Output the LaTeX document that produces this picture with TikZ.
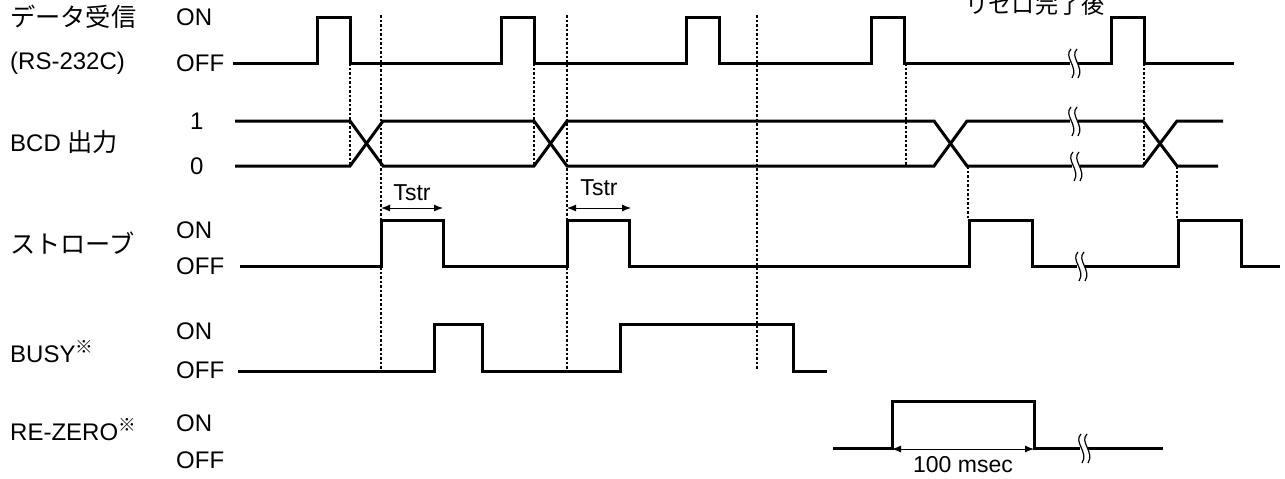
\documentclass[tikz,border=0pt]{standalone}
\usepackage{fontspec}
\setmainfont{Liberation Sans}
\newfontfamily\jp[Scale=1.05]{Noto Sans CJK JP}
\usetikzlibrary{arrows.meta,positioning}

\begin{document}
\begin{tikzpicture}[x=1pt,y=-1pt,
					sig/.style={line width=3pt, line join=miter},
					guide/.style={line width=2pt, dash pattern=on 2.5pt off 2pt},
					dim/.style={{Latex[length=9pt,width=7pt]}-{Latex[length=9pt,width=7pt]}, line width=1pt},
					lbl/.style={anchor=west, inner sep=0pt, font=\fontsize{24}{28}\selectfont},
					brk/.pic={
						\fill[white] (-3,-6) rectangle (5,6);
						\foreach \d in {-3,3}
							\draw[line width=1.2pt] (\d+1,-14) .. controls (\d-7,-6) and (\d+9,4) .. (\d+2,15);
					}]
					\useasboundingbox (0,0) rectangle (1285,479);
					
					% signal names
					\node[lbl] (rx) at (10,17) {\jp データ受信};
					\node[lbl] (rs) at (10,63) {(RS-232C)};
					\node[lbl] (bcd) at (10,142) {BCD {\jp 出力}};
					\node[lbl] (stb) at (10,243) {\jp ストローブ};
					\node[lbl] (busy) at (10,352) {BUSY\textsuperscript{\jp ※}};
					\node[lbl] (rz) at (10,430) {RE-ZERO\textsuperscript{\jp ※}};
					
					% levels
					\node[lbl] (rxon) at (176,17) {ON};
					\node[lbl] (rxoff) at (176,63) {OFF};
					\node[lbl] (bcdh) at (190,121) {1};
					\node[lbl] (bcdl) at (190,166) {0};
					\node[lbl] (stbon) at (176,230) {ON};
					\node[lbl] (stboff) at (176,266) {OFF};
					\node[lbl] (busyon) at (176,331) {ON};
					\node[lbl] (busyoff) at (176,370) {OFF};
					\node[lbl] (rzon) at (176,423) {ON};
					\node[lbl] (rzoff) at (176,460) {OFF};
					
					% guides
					\foreach \x in {350,534,906,1144}
						\draw[guide] (\x,63) -- (\x,166);
					\foreach \x in {381,567,757}
						\draw[guide] (\x,15) -- (\x,370);
					\foreach \x in {968,1177}
						\draw[guide] (\x,166) -- (\x,220);
					
					% waveforms
					\draw[sig] (233,63) -- (317,63) -- (317,17) -- (350,17) -- (350,63) -- (501,63) -- (501,17) -- (534,17) -- (534,63)
						-- (686,63) -- (686,17) -- (719,17) -- (719,63) -- (871,63) -- (871,17) -- (904,17) -- (904,63)
						-- (1111,63) -- (1111,17) -- (1144,17) -- (1144,63) -- (1234,63);
					\draw[sig] (235,121) -- (350,121) -- (383,166) -- (534,166) -- (567,121) -- (934,121) -- (967,166) -- (1143,166) -- (1177,121) -- (1223,121);
					\draw[sig] (235,166) -- (350,166) -- (383,121) -- (534,121) -- (567,166) -- (934,166) -- (967,121) -- (1143,121) -- (1177,166) -- (1218,166);
					\draw[sig] (240,266) -- (381,266) -- (381,220) -- (443,220) -- (443,266) -- (567,266) -- (567,220) -- (629,220) -- (629,266)
						-- (969,266) -- (969,220) -- (1032,220) -- (1032,266) -- (1178,266) -- (1178,220) -- (1241,220) -- (1241,266) -- (1280,266);
					\draw[sig] (238,371) -- (434,371) -- (434,324) -- (482,324) -- (482,371) -- (620,371) -- (620,324) -- (793,324) -- (793,371) -- (827,371);
					\draw[sig] (833,448) -- (892,448) -- (892,401) -- (1034,401) -- (1034,448) -- (1163,448);
					
					% breaks
					\pic at (1073,63) {brk};
					\pic at (1073,121) {brk};
					\pic at (1075,166) {brk};
					\pic at (1080,266) {brk};
					\pic at (1083,448) {brk};
					
					% timings
					\coordinate (t1a) at (381,208);
					\coordinate (t1b) at (443,208);
					\coordinate (t2a) at (567,208);
					\coordinate (t2b) at (631,208);
					\coordinate (rza) at (892,449);
					\coordinate (rzb) at (1034,449);
					\draw[dim] (t1a) -- (t1b) node[midway, above=3pt, font=\fontsize{23}{27}\selectfont] (tstr1) {Tstr};
					\draw[dim] (t2a) -- (t2b) node[midway, above=8pt, font=\fontsize{23}{27}\selectfont] (tstr2) {Tstr};
					\draw[dim] (rza) -- (rzb) node[midway, below=4pt, font=\fontsize{23}{27}\selectfont] (msec) {100 msec};
					
					\node[font=\jp\fontsize{22}{26}\selectfont] (after) at (1035,5) {リセロ完了後};
				\end{tikzpicture}
\end{document}
